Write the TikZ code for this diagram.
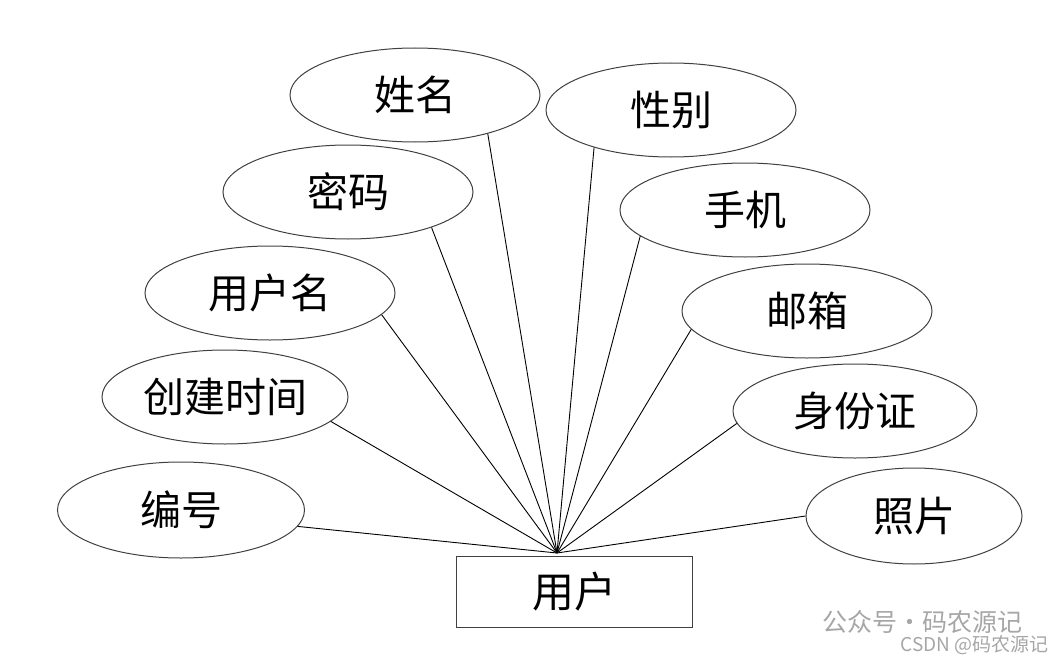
\documentclass[tikz,border=0pt]{standalone}
\usepackage{fontspec}
\setmainfont{Noto Sans CJK SC}
\usepackage{tikz}
\usetikzlibrary{positioning,shapes.geometric}

\begin{document}
\begin{tikzpicture}
    [x=1pt,y=-1pt,
     attr/.style={ellipse,draw=black!75,line width=1pt,inner sep=0pt,
       minimum width=250pt,minimum height=94pt,font=\fontsize{41}{43}\selectfont},
     ent/.style={rectangle,draw=black!75,line width=1pt,minimum width=236pt,
       minimum height=71pt,font=\fontsize{42}{44}\selectfont},
     link/.style={line width=0.9pt},
     wmtext/.style={text=black!35}]
    \useasboundingbox (0,0) rectangle (1058,661);

    \node[ent] (user) at (574,592) {用户};
    \coordinate (hub) at (557,553);

    \node[attr] (name) at (415,95) {姓名};
    \node[attr] (sex) at (671,110) {性别};
    \node[attr] (pwd) at (348,192) {密码};
    \node[attr] (phone) at (745,210) {手机};
    \node[attr] (uname) at (270,293) {用户名};
    \node[attr] (mail) at (807,311) {邮箱};
    \node[attr,minimum width=246pt] (ctime) at (225,397) {创建时间};
    \node[attr,minimum width=244pt] (idno) at (855,411) {身份证};
    \node[attr,minimum width=247pt,minimum height=96pt] (num) at (181,510) {编号};
    \node[attr,minimum width=216pt,minimum height=96pt] (photo) at (914,516) {照片};

    % attributes to entity
    \draw[link] (name.-28) -- (hub);
    \draw[link] (sex.206) -- (hub);
    \draw[link] (pwd.-23) -- (hub);
    \draw[link] (phone.194) -- (hub);
    \draw[link] (uname.-11) -- (hub);
    \draw[link] (mail.189) -- (hub);
    \draw[link] (ctime.-13) -- (hub);
    \draw[link] (idno.186) -- (hub);
    \draw[link] (num.-8) -- (hub);
    \draw[link] (photo.180) -- (hub);

    \node[wmtext,font=\fontsize{25}{27}\selectfont,anchor=east] (wm) at (1026,622) {公众号·码农源记};
    \node[wmtext,font=\fontsize{19}{21}\selectfont,anchor=east] (csdn) at (1052,645) {CSDN @码农源记};
  \end{tikzpicture}
\end{document}
